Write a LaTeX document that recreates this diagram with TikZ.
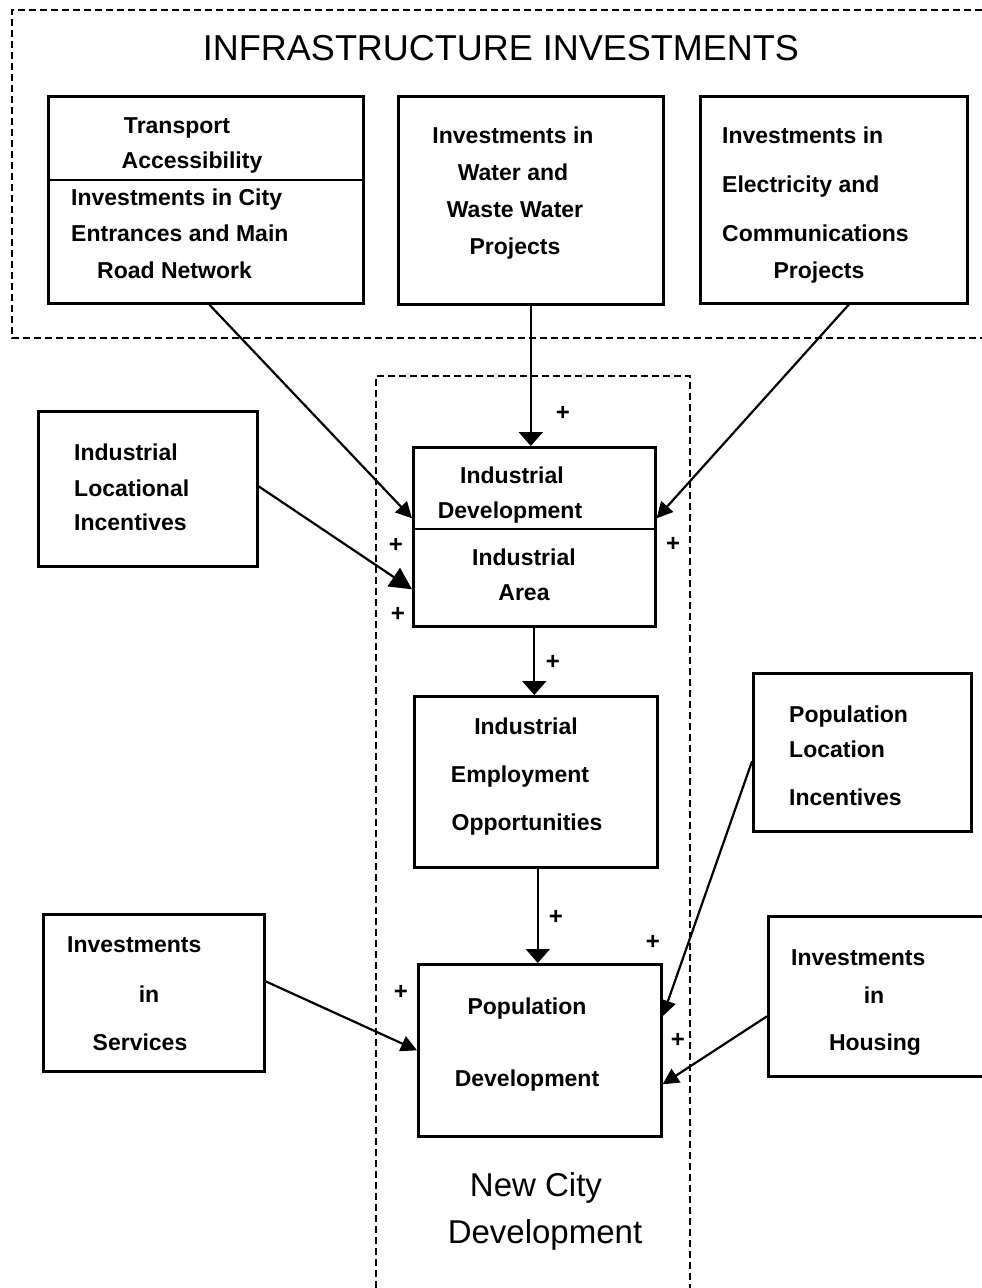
\documentclass[tikz,border=0pt]{standalone}
\usepackage{fontspec}
\setmainfont{Liberation Sans}
\usetikzlibrary{arrows.meta}
\tikzset{
  box/.style={draw, line width=2.6pt, inner sep=0pt, anchor=north west},
  divider/.style={line width=2.6pt},
  frame/.style={line width=1.5pt, dash pattern=on 7pt off 4pt},
  arr/.style={line width=2.2pt, -{Triangle[length=16pt,width=16pt]}},
  varr/.style={line width=2.2pt, -{Triangle[length=14pt,width=24pt]}},
  bigarr/.style={line width=2.2pt, -{Triangle[length=22pt,width=22pt]}},
  tl/.style={font=\bfseries\fontsize{23}{23}\selectfont, inner sep=0pt, anchor=base},
  tlw/.style={tl, anchor=base west},
  plus/.style={font=\bfseries\fontsize{24}{24}\selectfont, inner sep=0pt},
}
\begin{document}
\begin{tikzpicture}[x=1pt,y=-1pt]
\useasboundingbox[fill=white] (0,0) rectangle (982,1288);

% dashed frames
\draw[frame] (982,10) -- (12,10) -- (12,338) -- (982,338);
\draw[frame] (376,1288) -- (376,376) -- (690,376) -- (690,1288);

\node[anchor=base, font=\fontsize{36}{36}\selectfont, inner sep=0pt] (title) at (501,60) {INFRASTRUCTURE INVESTMENTS};

% boxes
\node[box, minimum width=315pt, minimum height=207pt] (tr) at (47,95) {};
\draw[divider] ([yshift=-85pt]tr.north west) -- ([yshift=-85pt]tr.north east);
\node[box, minimum width=265pt, minimum height=208pt] (ww) at (397,95) {};
\node[box, minimum width=267pt, minimum height=207pt] (el) at (699,95) {};
\node[box, minimum width=219pt, minimum height=155pt] (ili) at (37,410) {};
\node[box, minimum width=242pt, minimum height=179pt] (idv) at (412,446) {};
\draw[divider] ([yshift=-83pt]idv.north west) -- ([yshift=-83pt]idv.north east);
\node[box, minimum width=243pt, minimum height=171pt] (emp) at (413,695) {};
\node[box, minimum width=218pt, minimum height=158pt] (pli) at (752,672) {};
\node[box, minimum width=221pt, minimum height=157pt] (svc) at (42,913) {};
\node[box, minimum width=243pt, minimum height=172pt] (pd) at (417,963) {};
\node[box, minimum width=240pt, minimum height=160pt] (hs) at (767,915) {};

% texts
\node[tl] (t1) at (177,133) {Transport};
\node[tl] (t2) at (192,168) {Accessibility};
\node[tlw] (t3) at (71,205) {Investments in City};
\node[tlw] (t4) at (71,241) {Entrances and Main};
\node[tlw] (t5) at (97,278) {Road Network};

\node[tl] (w1) at (513,143) {Investments in};
\node[tl] (w2) at (513,180) {Water and};
\node[tl] (w3) at (515,217) {Waste Water};
\node[tl] (w4) at (515,254) {Projects};

\node[tlw] (e1) at (722,143) {Investments in};
\node[tlw] (e2) at (722,192) {Electricity and};
\node[tlw] (e3) at (722,241) {Communications};
\node[tl] (e4) at (819,278) {Projects};

\node[tlw] (l1) at (74,460) {Industrial};
\node[tlw] (l2) at (74,496) {Locational};
\node[tlw] (l3) at (74,530) {Incentives};

\node[tl] (d1) at (512,483) {Industrial};
\node[tl] (d2) at (510,518) {Development};
\node[tl] (d3) at (524,565) {Industrial};
\node[tl] (d4) at (524,600) {Area};

\node[tl] (m1) at (526,734) {Industrial};
\node[tl] (m2) at (520,782) {Employment};
\node[tl] (m3) at (527,830) {Opportunities};

\node[tlw] (q1) at (789,722) {Population};
\node[tlw] (q2) at (789,757) {Location};
\node[tlw] (q3) at (789,805) {Incentives};

\node[tlw] (s1) at (67,952) {Investments};
\node[tl] (s2) at (149,1002) {in};
\node[tl] (s3) at (140,1050) {Services};

\node[tl] (p1) at (527,1014) {Population};
\node[tl] (p2) at (527,1086) {Development};

\node[tlw] (h1) at (791,965) {Investments};
\node[tl] (h2) at (874,1003) {in};
\node[tl] (h3) at (875,1050) {Housing};

\node[anchor=base, font=\fontsize{33}{33}\selectfont, inner sep=0pt] (nc1) at (536,1196) {New City};
\node[anchor=base, font=\fontsize{33}{33}\selectfont, inner sep=0pt] (nc2) at (545,1243) {Development};

% connectors
\draw[arr] ([xshift=3.5pt]tr.south) -- ([yshift=18.5pt]idv.west);
\draw[varr] (ww.south) -- (ww.south |- idv.north);
\draw[arr] ([xshift=15pt]el.south) -- ([yshift=18.5pt]idv.east);
\draw[bigarr] ([yshift=2.5pt]ili.east) -- ([yshift=-52.5pt]idv.west);
\draw[varr] (idv.south) -- (idv.south |- emp.north);
\draw[varr] ([xshift=2pt]emp.south) -- ([xshift=2pt]emp.south |- pd.north);
\draw[arr] ([yshift=-9pt]pli.west) -- ([yshift=34pt]pd.east);
\draw[arr] ([yshift=11.5pt]svc.east) -- (pd.west);
\draw[arr] ([yshift=-20pt]hs.west) -- ([yshift=-34pt]pd.east);

% plus signs
\node[plus] (pl1) at (563,413) {+};
\node[plus] (pl2) at (396,545) {+};
\node[plus] (pl3) at (398,614) {+};
\node[plus] (pl4) at (673,544) {+};
\node[plus] (pl5) at (553,662) {+};
\node[plus] (pl6) at (556,917) {+};
\node[plus] (pl7) at (653,942) {+};
\node[plus] (pl8) at (401,992) {+};
\node[plus] (pl9) at (678,1040) {+};
\end{tikzpicture}
\end{document}
